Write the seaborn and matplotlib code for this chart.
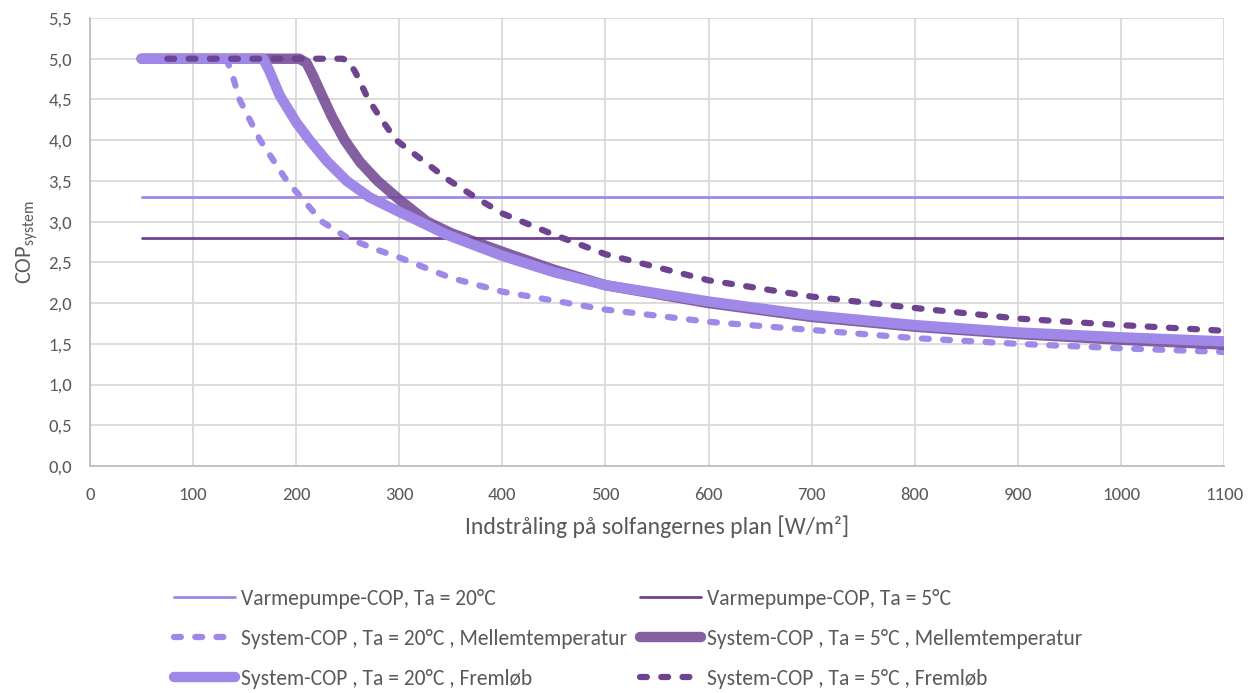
import matplotlib

matplotlib.use("Agg")

import pandas as pd
import seaborn as sns
from matplotlib import font_manager
from matplotlib import pyplot as plt
from matplotlib.ticker import FuncFormatter, MultipleLocator

# Data
vp_x = [50, 1100]
vp_20 = [3.3, 3.3]
vp_5 = [2.8, 2.8]

sys20_mellem_x = [50, 100, 132, 137, 145, 165, 191, 225, 250, 275, 300, 350,
                  400, 500, 600, 700, 800, 900, 1000, 1100]
sys20_mellem_y = [5.0, 5.0, 5.0, 4.85, 4.5, 4.0, 3.5, 3.0, 2.8, 2.67, 2.56,
                  2.31, 2.14, 1.92, 1.77, 1.67, 1.57, 1.50, 1.445, 1.40]

sys20_frem_x = [50, 100, 168, 174, 184, 200, 213, 230, 249, 271, 300, 320,
                346, 400, 450, 500, 600, 700, 800, 900, 1000, 1100]
sys20_frem_y = [5.0, 5.0, 5.0, 4.85, 4.55, 4.22, 4.0, 3.74, 3.5, 3.3, 3.12,
                3.0, 2.84, 2.58, 2.38, 2.22, 2.02, 1.85, 1.73, 1.64, 1.58, 1.53]

sys5_mellem_x = [50, 100, 203, 210, 216, 225, 235, 247, 262, 279, 300, 327,
                 350, 400, 450, 500, 600, 700, 800, 900, 1000, 1100]
sys5_mellem_y = [5.0, 5.0, 5.0, 4.95, 4.8, 4.55, 4.28, 4.0, 3.73, 3.5, 3.27,
                 3.0, 2.86, 2.63, 2.41, 2.22, 2.0, 1.83, 1.71, 1.62, 1.55, 1.49]

sys5_frem_x = [75, 150, 245, 251, 258, 270, 283, 297, 325, 349, 375, 400,
               450, 500, 600, 700, 800, 900, 1000, 1100]
sys5_frem_y = [5.0, 5.0, 5.0, 4.97, 4.82, 4.5, 4.25, 4.0, 3.73, 3.5, 3.29,
               3.1, 2.84, 2.6, 2.28, 2.08, 1.94, 1.81, 1.73, 1.66]

labels = [
    "Varmepumpe-COP, Ta = 20°C",
    "System-COP , Ta = 20°C , Mellemtemperatur",
    "System-COP , Ta = 20°C , Fremløb",
    "Varmepumpe-COP, Ta = 5°C",
    "System-COP , Ta = 5°C , Mellemtemperatur",
    "System-COP , Ta = 5°C , Fremløb",
]

light = "#A088E8"
dark = "#6E4490"
text_col = "#595959"
grid_col = "#D9D9D9"

sns.set_theme(style="whitegrid")
installed = {f.name for f in font_manager.fontManager.ttflist}
family = [f for f in ["Carlito", "Liberation Sans Narrow", "Lato"] if f in installed]
plt.rcParams["font.family"] = family + ["DejaVu Sans"]
plt.rcParams["mathtext.fontset"] = "custom"
plt.rcParams["mathtext.rm"] = family[0] if family else "DejaVu Sans"

fig = plt.figure(figsize=(12.55, 6.93), dpi=100)
ax = fig.add_axes([90 / 1255, 1 - 466 / 693, (1224 - 90) / 1255, (466 - 18) / 693])

dash = (0, (1.1, 2.3))
series = [
    (vp_x, vp_20, light, 2.0, "-", 1.0),
    (sys20_mellem_x, sys20_mellem_y, light, 4.5, dash, 1.0),
    (sys20_frem_x, sys20_frem_y, light, 7.5, "-", 1.0),
    (vp_x, vp_5, dark, 2.0, "-", 1.0),
    (sys5_mellem_x, sys5_mellem_y, dark, 7.5, "-", 0.85),
    (sys5_frem_x, sys5_frem_y, dark, 4.5, dash, 1.0),
]
# Excel series order: VP20, VP5, Sys20 mellem, Sys5 mellem, Sys20 frem, Sys5 frem
draw_order = [0, 3, 1, 4, 2, 5]
handles = {}
for i in draw_order:
    xs, ys, col, lw, ls, alpha = series[i]
    df = pd.DataFrame({"x": xs, "y": ys})
    sns.lineplot(data=df, x="x", y="y", ax=ax, color=col, linewidth=lw,
                 linestyle=ls, alpha=alpha, sort=False, estimator=None,
                 solid_capstyle="round", solid_joinstyle="round",
                 dash_capstyle="round", label=labels[i])
    handles[i] = ax.lines[-1]
ax.get_legend().remove()

ax.set_xlim(0, 1100)
ax.set_ylim(0, 5.5)
ax.xaxis.set_major_locator(MultipleLocator(100))
ax.yaxis.set_major_locator(MultipleLocator(0.5))
ax.yaxis.set_major_formatter(FuncFormatter(lambda v, p: f"{v:.1f}".replace(".", ",")))
ax.grid(True, color=grid_col, linewidth=1.3)
for side in ["top", "right"]:
    ax.spines[side].set_visible(False)
for side in ["left", "bottom"]:
    ax.spines[side].set_color("#BFBFBF")
    ax.spines[side].set_linewidth(1.3)
ax.tick_params(axis="both", length=0, labelsize=13.5, labelcolor=text_col)
ax.tick_params(axis="x", pad=15)
ax.tick_params(axis="y", pad=13)
ax.set_facecolor("white")

ax.set_xlabel("Indstråling på solfangernes plan [W/m²]", fontsize=17,
              color=text_col, labelpad=9)
ax.set_ylabel(r"COP$_\mathregular{system}$", fontsize=16, color=text_col,
              labelpad=6)

leg_kw = dict(loc="upper left", frameon=False, fontsize=15.5, handlelength=2.85,
              handletextpad=0.28, labelspacing=0.92, labelcolor=text_col,
              borderaxespad=0, borderpad=0)
leg1 = fig.legend([handles[i] for i in [0, 1, 2]], [labels[i] for i in [0, 1, 2]],
                  bbox_to_anchor=(174 / 1255, 1 - 589 / 693), **leg_kw)
leg2 = fig.legend([handles[i] for i in [3, 4, 5]], [labels[i] for i in [3, 4, 5]],
                  bbox_to_anchor=(640 / 1255, 1 - 589 / 693), **leg_kw)

fig.savefig("out.png", dpi=100, facecolor="white")
